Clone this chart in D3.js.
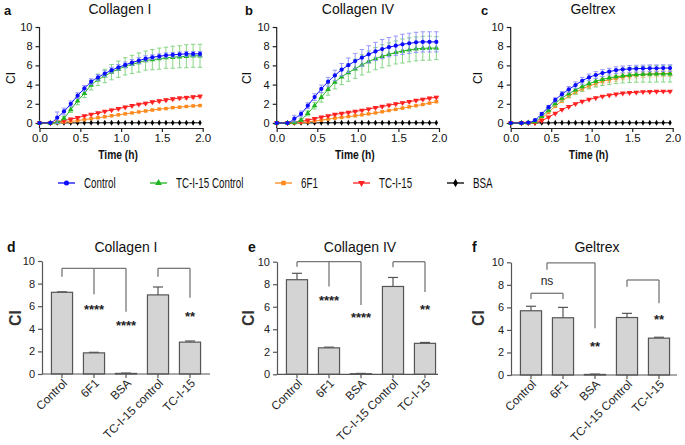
<!DOCTYPE html>
<html><head><meta charset="utf-8">
<script src="https://cdn.jsdelivr.net/npm/d3@7"></script>
<style>
body{margin:0;background:#fff}
svg{display:block;font-family:"Liberation Sans",Arial,Helvetica,sans-serif}
</style>
</head><body>
<svg id="chart" width="685" height="445"></svg>
<script>
// ---------- data ----------
const times = [0,0.133,0.217,0.3,0.383,0.467,0.55,0.633,0.717,0.8,0.883,0.967,1.05,1.133,1.217,1.3,1.383,1.467,1.55,1.633,1.717,1.8,1.883,1.967];
const seriesNames = ["Control","TC-I-15 Control","6F1","TC-I-15","BSA"];
const seriesColors = ["#0b0bff","#1fb51f","#ff8a1c","#ff2020","#000000"];
const errorColors = ["#8c8cff","#79d279","#ffbf85","#ff9a9a","#777777"];
const xTicks = [0,0.5,1,1.5,2];
const yTicks = [0,2,4,6,8,10];

// Collagen I (a)
const aControl = [0,0.02,0.55,1.2,2.0,2.85,3.6,4.3,4.75,5.15,5.5,5.8,6.05,6.3,6.5,6.7,6.85,6.95,7.05,7.1,7.15,7.2,7.2,7.2];
const aControlErr = [0,0,0.6,0.35,0.3,0.3,0.3,0.3,0.3,0.3,0.3,0.3,0.3,0.3,0.3,0.3,0.25,0.25,0.25,0.25,0.25,0.25,0.25,0.25];
const aTcControl = [0,0,0.05,0.5,1.4,2.3,3.1,3.95,4.5,4.9,5.3,5.6,5.9,6.1,6.3,6.5,6.6,6.7,6.8,6.85,6.9,6.95,7.0,7.0];
const aTcControlErr = [0,0,0.05,0.15,0.3,0.4,0.45,0.5,0.6,0.7,0.8,0.85,0.9,0.95,1.0,1.0,1.05,1.1,1.1,1.15,1.15,1.2,1.2,1.2];
const a6F1 = [0,0,0.05,0.1,0.15,0.25,0.35,0.45,0.55,0.65,0.75,0.85,0.95,1.05,1.15,1.25,1.35,1.45,1.5,1.6,1.65,1.72,1.78,1.82];
const a6F1Err = [0,0,0.02,0.03,0.03,0.04,0.04,0.05,0.05,0.05,0.05,0.05,0.06,0.06,0.06,0.07,0.07,0.07,0.08,0.08,0.08,0.08,0.08,0.08];
const aTc15 = [0,0,0.1,0.25,0.4,0.55,0.75,0.9,1.05,1.2,1.35,1.5,1.65,1.8,1.95,2.05,2.2,2.3,2.4,2.5,2.6,2.65,2.72,2.78];
const aTc15Err = [0,0,0.02,0.05,0.05,0.05,0.05,0.05,0.05,0.05,0.08,0.08,0.1,0.1,0.1,0.12,0.12,0.15,0.15,0.15,0.15,0.15,0.15,0.15];
const aBSA = [0,0,0.01,0.01,0.01,0.01,0.02,0.02,0.02,0.02,0.02,0.02,0.02,0.02,0.02,0.02,0.02,0.02,0.02,0.02,0.02,0.02,0.02,0.02];

// Collagen IV (b)
const bControl = [0,0,0.45,0.95,1.8,2.7,3.55,4.3,4.95,5.55,6.02,6.45,6.8,7.15,7.45,7.7,7.9,8.05,8.2,8.3,8.4,8.45,8.45,8.45];
const bControlErr = [0,0,0.35,0.3,0.3,0.35,0.4,0.45,0.55,0.65,0.75,0.8,0.85,0.9,0.95,1.0,1.0,1.0,1.05,1.05,1.05,1.05,1.05,1.05];
const bTcControl = [0,0,0.05,0.3,1.0,1.8,2.67,3.5,4.25,4.8,5.25,5.65,6.05,6.4,6.7,6.95,7.15,7.35,7.5,7.62,7.72,7.78,7.8,7.8];
const bTcControlErr = [0,0,0.05,0.15,0.25,0.35,0.5,0.6,0.7,0.8,0.9,1.0,1.05,1.1,1.15,1.2,1.2,1.2,1.25,1.25,1.25,1.25,1.25,1.2];
const b6F1 = [0,0,0.02,0.05,0.12,0.2,0.3,0.4,0.5,0.58,0.67,0.75,0.85,0.95,1.05,1.17,1.3,1.42,1.55,1.68,1.8,1.93,2.07,2.22];
const b6F1Err = [0,0,0.02,0.02,0.03,0.03,0.04,0.04,0.05,0.05,0.05,0.05,0.05,0.06,0.06,0.06,0.07,0.07,0.07,0.08,0.08,0.08,0.08,0.08];
const bTc15 = [0,0,0.05,0.15,0.3,0.45,0.6,0.75,0.9,1.0,1.1,1.2,1.32,1.45,1.6,1.72,1.85,1.98,2.1,2.22,2.35,2.47,2.58,2.68];
const bTc15Err = [0,0,0.02,0.03,0.05,0.05,0.06,0.06,0.07,0.08,0.08,0.08,0.09,0.09,0.1,0.1,0.1,0.1,0.1,0.1,0.1,0.1,0.1,0.1];
const bBSA = [0,0,0.01,0.01,0.01,0.01,0.02,0.02,0.02,0.02,0.02,0.02,0.02,0.02,0.02,0.02,0.02,0.02,0.02,0.02,0.02,0.02,0.02,0.02];

// Geltrex (c)
const cControl = [0,0,0.05,0.3,0.95,1.65,2.4,3.0,3.5,3.95,4.4,4.75,5.0,5.2,5.35,5.5,5.58,5.63,5.66,5.68,5.7,5.7,5.72,5.72];
const cControlErr = [0,0,0.03,0.08,0.12,0.18,0.22,0.28,0.3,0.33,0.35,0.35,0.35,0.35,0.35,0.35,0.35,0.35,0.35,0.35,0.35,0.35,0.35,0.35];
const cTcControl = [0,0,0.02,0.15,0.7,1.35,2.05,2.6,3.05,3.45,3.8,4.1,4.35,4.55,4.7,4.82,4.92,5.0,5.05,5.08,5.1,5.12,5.12,5.12];
const cTcControlErr = [0,0,0,0.05,0.12,0.2,0.3,0.35,0.4,0.45,0.5,0.55,0.6,0.65,0.7,0.72,0.75,0.78,0.8,0.82,0.85,0.85,0.85,0.85];
const c6F1 = [0,0,0.01,0.08,0.5,1.1,1.75,2.3,2.8,3.2,3.55,3.85,4.1,4.35,4.5,4.65,4.8,4.9,5.0,5.05,5.1,5.12,5.15,5.15];
const c6F1Err = [0,0,0,0.03,0.08,0.12,0.15,0.18,0.2,0.22,0.25,0.25,0.28,0.28,0.3,0.3,0.3,0.3,0.3,0.3,0.3,0.3,0.3,0.3];
const cTc15 = [0,0,0,0.02,0.25,0.6,1.0,1.4,1.7,2.0,2.25,2.45,2.62,2.78,2.9,3.0,3.1,3.15,3.2,3.25,3.27,3.28,3.3,3.3];
const cTc15Err = [0,0,0,0.02,0.03,0.04,0.05,0.05,0.05,0.05,0.06,0.06,0.06,0.06,0.07,0.07,0.07,0.07,0.07,0.07,0.07,0.07,0.07,0.07];
const cBSA = [0,0,0.01,0.01,0.01,0.01,0.02,0.02,0.02,0.02,0.02,0.02,0.02,0.02,0.02,0.02,0.02,0.02,0.02,0.02,0.02,0.02,0.02,0.02];

// End-point bar charts (d, e, f)
const barCatsD = ["Control","6F1","BSA","TC-I-15 control","TC-I-15"];
const barCatsEF = ["Control","6F1","BSA","TC-I-15 Control","TC-I-15"];
const dMeans = [7.23,1.87,0.05,7.0,2.82];
const dErrs = [0.04,0.05,0.03,0.7,0.1];
const eMeans = [8.4,2.35,0.05,7.8,2.75];
const eErrs = [0.57,0.06,0.03,0.8,0.08];
const fMeans = [5.7,5.08,0.05,5.1,3.27];
const fErrs = [0.4,0.92,0.03,0.37,0.08];

// significance annotations (value units)
const dBrackets = [{legs:[[0,8.6],[1,7.05],[2,5.5]],top:9.35},{legs:[[3,8.6],[4,6.75]],top:9.35}];
const dStars = [{i:1,v:6.05,t:"****"},{i:2,v:4.63,t:"****"},{i:4,v:5.4,t:"**"}];
const eBrackets = [{legs:[[0,9.55],[1,7.8],[2,6.15]],top:10.0},{legs:[[3,9.5],[4,7.3]],top:10.0}];
const eStars = [{i:1,v:6.87,t:"****"},{i:2,v:5.36,t:"****"},{i:4,v:6.1,t:"**"}];
const fBrackets = [{legs:[[0,6.75],[1,6.75]],top:7.25},{legs:[[0.5,9.35],[2,4.15]],top:9.95},{legs:[[3,7.83],[4,6.36]],top:8.43}];
const fStars = [{i:0.5,v:8.3,t:"ns"},{i:2,v:2.87,t:"**"},{i:4,v:5.24,t:"**"}];

// ---------- drawing ----------
const svg = d3.select("#chart");
const symbols = [d3.symbolCircle, d3.symbolTriangle, d3.symbolSquare, d3.symbolTriangle, d3.symbolDiamond];
const symSizes = [14, 14, 12, 14, 10];
const symRot = [0,0,0,180,0];
function sym(i){ return d3.symbol().type(symbols[i]).size(symSizes[i])(); }

const topPanels = [
  {letter:"a", title:"Collagen  I", x0:39.5, x1:202.7, data:[aControl,aTcControl,a6F1,aTc15,aBSA], errs:[aControlErr,aTcControlErr,a6F1Err,aTc15Err,null], lx:4, tx:120, clx:11},
  {letter:"b", title:"Collagen IV", x0:276.7, x1:439, data:[bControl,bTcControl,b6F1,bTc15,bBSA], errs:[bControlErr,bTcControlErr,b6F1Err,bTc15Err,null], lx:245, tx:358, clx:247},
  {letter:"c", title:"Geltrex", x0:510.7, x1:672.7, data:[cControl,cTcControl,c6F1,cTc15,cBSA], errs:[cControlErr,cTcControlErr,c6F1Err,cTc15Err,null], lx:481, tx:593, clx:478}
];
const drawOrder = [4,2,3,1,0];

topPanels.forEach(p=>{
  const g = svg.append("g");
  const x = d3.scaleLinear().domain([0,2]).range([p.x0,p.x1]);
  const y = d3.scaleLinear().domain([0,10]).range([123,27]);
  const axisY = 128;
  const ya = g.append("g").attr("transform",`translate(${p.x0},0)`)
    .call(d3.axisLeft(y).tickValues(yTicks).tickSize(4).tickSizeOuter(0));
  ya.select(".domain").remove();
  g.append("line").attr("x1",p.x0).attr("x2",p.x0).attr("y1",y(10)).attr("y2",axisY).attr("stroke","#222").attr("stroke-width",1.2);
  ya.selectAll(".tick line").attr("stroke","#222").attr("stroke-width",1.2);
  ya.selectAll("text").attr("font-size",11).attr("fill","#111").attr("font-family","Liberation Sans, Arial");
  const xa = g.append("g").attr("transform",`translate(0,${axisY})`)
    .call(d3.axisBottom(x).tickValues(xTicks).tickFormat(d3.format(".1f")).tickSize(4).tickSizeOuter(0));
  xa.select(".domain").attr("stroke","#222").attr("stroke-width",1.2);
  xa.selectAll(".tick line").attr("stroke","#222").attr("stroke-width",1.2);
  xa.selectAll("text").attr("font-size",11.5).attr("fill","#111").attr("font-family","Liberation Sans, Arial").attr("dy","0.62em");
  g.append("text").attr("transform",`translate(${(p.x0+p.x1)/2-3},159) scale(0.82,1)`).attr("text-anchor","middle").attr("font-size",12.5).attr("font-weight","bold").attr("fill","#111").text("Time (h)");
  g.append("text").attr("transform",`translate(${p.clx+4},78) rotate(-90)`).attr("text-anchor","middle").attr("font-size",12).attr("fill","#111").text("CI");
  g.append("text").attr("x",p.tx).attr("y",14).attr("text-anchor","middle").attr("font-size",14).attr("fill","#111").text(p.title);
  g.append("text").attr("x",p.lx).attr("y",15).attr("font-size",13).attr("font-weight","bold").attr("fill","#111").text(p.letter);

  drawOrder.forEach(si=>{
    const vals = p.data[si];
    const errs = p.errs[si];
    const pts = times.map((t,k)=>({t, v:vals[k], e: errs? errs[k]:0}));
    if(errs){
      const eg = g.append("g").attr("stroke",errorColors[si]).attr("stroke-width",1).attr("opacity",0.9);
      pts.forEach(d=>{
        if(d.e<=0.02) return;
        eg.append("line").attr("x1",x(d.t)).attr("x2",x(d.t)).attr("y1",y(d.v-d.e)).attr("y2",y(d.v+d.e));
        eg.append("line").attr("x1",x(d.t)-2.2).attr("x2",x(d.t)+2.2).attr("y1",y(d.v-d.e)).attr("y2",y(d.v-d.e));
        eg.append("line").attr("x1",x(d.t)-2.2).attr("x2",x(d.t)+2.2).attr("y1",y(d.v+d.e)).attr("y2",y(d.v+d.e));
      });
    }
    g.append("path").datum(pts).attr("fill","none").attr("stroke",seriesColors[si]).attr("stroke-width",1)
      .attr("d",d3.line().x(d=>x(d.t)).y(d=>y(d.v)).curve(d3.curveMonotoneX));
    g.append("g").selectAll("path").data(pts).join("path")
      .attr("d",sym(si)).attr("fill",seriesColors[si])
      .attr("transform",d=>`translate(${x(d.t)},${y(d.v)}) rotate(${symRot[si]})`);
  });
});

// ---------- legend ----------
const legendX = [58,150,275,353,447];
const lg = svg.append("g").attr("transform","translate(0,183)");
seriesNames.forEach((n,i)=>{
  const lx = legendX[i];
  lg.append("line").attr("x1",lx).attr("x2",lx+17).attr("y1",0).attr("y2",0).attr("stroke",seriesColors[i]).attr("stroke-width",1.3);
  lg.append("path").attr("d",d3.symbol().type(symbols[i]).size(20)()).attr("fill",seriesColors[i])
    .attr("transform",`translate(${lx+8.5},0) rotate(${symRot[i]})`);
  lg.append("text").attr("transform",`translate(${lx+26},0) scale(0.7,1)`).attr("dy","0.35em")
    .attr("font-size",14).attr("fill","#111").text(n);
});

// ---------- bar panels ----------
const barPanels = [
  {letter:"d", title:"Collagen I", ax:42, xEnd:210, y0:374, y10:261, cats:barCatsD, means:dMeans, errs:dErrs, brackets:dBrackets, stars:dStars, lx:7, tx:126, clx:15},
  {letter:"e", title:"Collagen IV", ax:277, xEnd:438, y0:374.3, y10:261.7, cats:barCatsEF, means:eMeans, errs:eErrs, brackets:eBrackets, stars:eStars, lx:248, tx:360, clx:248},
  {letter:"f", title:"Geltrex", ax:511, xEnd:677, y0:375, y10:262.3, cats:barCatsEF, means:fMeans, errs:fErrs, brackets:fBrackets, stars:fStars, lx:472, tx:597, clx:478}
];

barPanels.forEach(p=>{
  const g = svg.append("g");
  const y = d3.scaleLinear().domain([0,10]).range([p.y0,p.y10]);
  const x = d3.scaleBand().domain(p.cats).range([p.ax+4,p.ax+164]).paddingInner(0.34).paddingOuter(0.17);
  const bw = x.bandwidth();
  const cx = i => { const lo=Math.floor(i), hi=Math.ceil(i); const a=x(p.cats[lo])+bw/2, b=x(p.cats[hi])+bw/2; return a+(b-a)*(i-lo); };

  p.cats.forEach((c,i)=>{
    const m = p.means[i], e = p.errs[i];
    g.append("line").attr("x1",cx(i)).attr("x2",cx(i)).attr("y1",y(m)).attr("y2",y(m+e)).attr("stroke","#555").attr("stroke-width",1.2);
    g.append("line").attr("x1",cx(i)-5).attr("x2",cx(i)+5).attr("y1",y(m+e)).attr("y2",y(m+e)).attr("stroke","#555").attr("stroke-width",1.2);
    g.append("rect").attr("x",x(c)).attr("y",y(m)).attr("width",bw).attr("height",y(0)-y(m))
      .attr("fill","#d4d4d4").attr("stroke","#555").attr("stroke-width",1.2);
  });
  const ya = g.append("g").attr("transform",`translate(${p.ax},0)`)
    .call(d3.axisLeft(y).tickValues(yTicks).tickSize(4).tickSizeOuter(0));
  ya.select(".domain").attr("stroke","#555").attr("stroke-width",1.2);
  ya.selectAll(".tick line").attr("stroke","#555").attr("stroke-width",1.2);
  ya.selectAll("text").attr("font-size",11).attr("fill","#222").attr("font-family","Liberation Sans, Arial");
  g.append("line").attr("x1",p.ax).attr("x2",p.xEnd).attr("y1",y(0)).attr("y2",y(0)).attr("stroke","#555").attr("stroke-width",1.2);
  p.cats.forEach((c,i)=>{
    g.append("line").attr("x1",cx(i)).attr("x2",cx(i)).attr("y1",y(0)).attr("y2",y(0)+4).attr("stroke","#555").attr("stroke-width",1.2);
    g.append("text").attr("transform",`translate(${cx(i)+3},${y(0)+7}) rotate(-45)`).attr("text-anchor","end")
      .attr("dy","0.35em").attr("font-size",11.8).attr("fill","#222").text(c);
  });
  p.brackets.forEach(b=>{
    const xs = b.legs.map(l=>cx(l[0]));
    const bg = g.append("g").attr("stroke","#777").attr("stroke-width",1.3).attr("fill","none");
    bg.append("line").attr("x1",d3.min(xs)).attr("x2",d3.max(xs)).attr("y1",y(b.top)).attr("y2",y(b.top));
    b.legs.forEach(l=>bg.append("line").attr("x1",cx(l[0])).attr("x2",cx(l[0])).attr("y1",y(b.top)).attr("y2",y(l[1])));
  });
  p.stars.forEach(s=>{
    g.append("text").attr("x",cx(s.i)).attr("y",y(s.v)).attr("text-anchor","middle")
      .attr("dy",s.t==="ns"?"0.3em":"0.62em").attr("font-size",s.t==="ns"?12:13).attr("font-weight",s.t==="ns"?"normal":"bold").attr("fill","#222").text(s.t);
  });
  g.append("text").attr("x",p.tx).attr("y",252).attr("text-anchor","middle").attr("font-size",14).attr("fill","#111").text(p.title);
  g.append("text").attr("x",p.lx).attr("y",252).attr("font-size",14).attr("font-weight","bold").attr("fill","#111").text(p.letter);
  g.append("text").attr("transform",`translate(${p.clx+6},318) rotate(-90)`).attr("text-anchor","middle").attr("font-size",16).attr("font-weight","bold").attr("fill","#333").text("CI");
});
</script>
</body></html>
